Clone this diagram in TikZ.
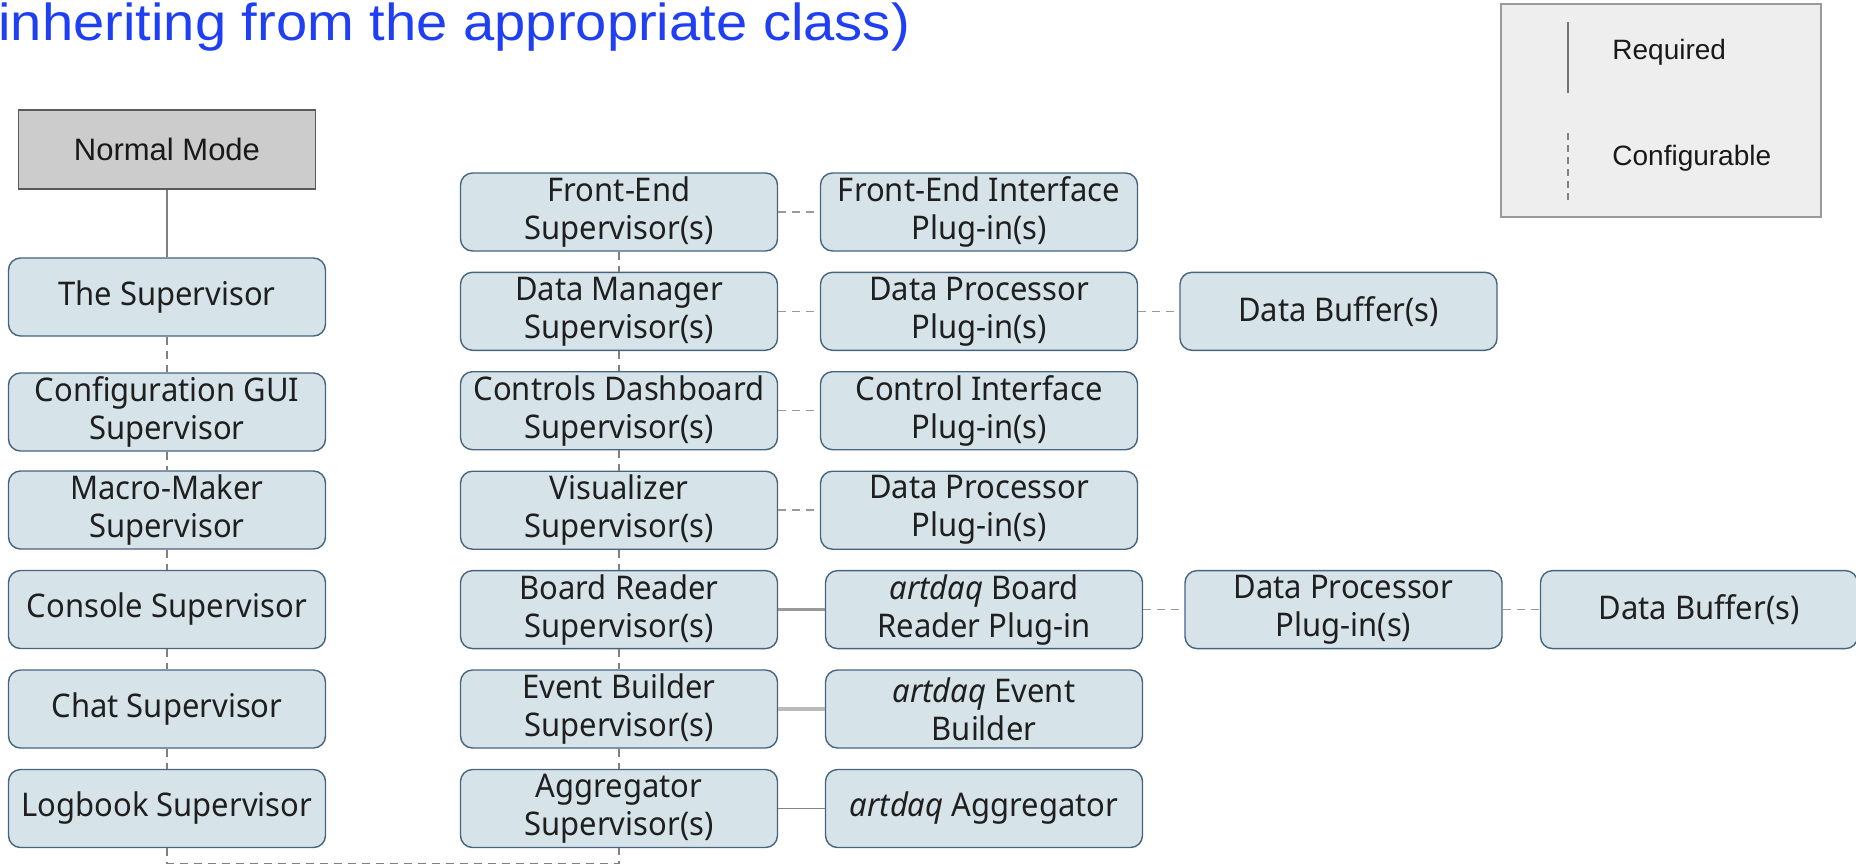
\documentclass[tikz,border=0pt]{standalone}
\usepackage{fontspec}
\setmainfont{Liberation Sans}
\newfontfamily\boxfont[FakeStretch=0.95]{Noto Sans}
\newfontfamily\titlefont[FakeStretch=1.08]{Liberation Sans}
\definecolor{boxfill}{HTML}{D6E4EA}
\definecolor{boxline}{HTML}{46647E}
\definecolor{modefill}{HTML}{CCCCCC}
\definecolor{modeline}{HTML}{5A5A5A}
\definecolor{legfill}{HTML}{EEEEEE}
\definecolor{legline}{HTML}{999999}
\definecolor{titleblue}{HTML}{1F3FF5}
\definecolor{reqline}{HTML}{808080}
\definecolor{cfgline}{HTML}{999999}
\begin{document}
\begin{tikzpicture}[x=0.5pt,y=-0.5pt,
    sup/.style={draw=boxline,line width=0.7pt,fill=boxfill,rounded corners=6pt,
      minimum width=158.5pt,minimum height=39pt,inner sep=0pt,align=center,
      text=black!88,font=\boxfont\fontsize{16.3}{19}\selectfont},
    mode/.style={draw=modeline,line width=0.8pt,fill=modefill,
      minimum width=148.5pt,minimum height=39.5pt,inner sep=0pt,
      text=black!90,font=\fontsize{15.5}{18}\selectfont},
    legtext/.style={anchor=west,inner sep=0pt,text=black!90,font=\fontsize{14}{16}\selectfont},
    req/.style={draw=reqline,line width=0.75pt},
    cfg/.style={draw=cfgline,line width=0.75pt,dash pattern=on 4pt off 3pt}]
  \useasboundingbox (0,0) rectangle (1856,863);
  \node[anchor=base west,inner sep=0pt,text=titleblue,
    font=\titlefont\fontsize{26}{30}\selectfont] (title) at (-2,40)
    {inheriting from the appropriate class)};
  % legend
  \node[draw=legline,line width=0.8pt,fill=legfill,minimum width=160pt,
    minimum height=106.5pt] (legend) at (1661,110.5) {};
  \node[legtext] (required) at (1612,52) {Required};
  \node[legtext] (configurable) at (1612,158) {Configurable};
  \coordinate (reqtop) at (1568,22);
  \coordinate (reqbot) at (1568,93);
  \coordinate (cfgtop) at (1568,133);
  \coordinate (cfgbot) at (1568,203);
  \draw[req,draw=black!55,line width=1.4pt] (reqtop) -- (reqbot);
  \draw[cfg,draw=black!50,line width=1.2pt,dash pattern=on 3.5pt off 2.5pt] (cfgtop) -- (cfgbot);
  % left column
  \node[mode] (normal) at (167,149.5) {Normal Mode};
  \node[sup] (super) at (167,297) {The Supervisor};
  \node[sup] (cfggui) at (167,412) {Configuration GUI\\Supervisor};
  \node[sup] (macro) at (167,510) {Macro-Maker\\Supervisor};
  \node[sup] (console) at (167,609.5) {Console Supervisor};
  \node[sup] (chat) at (167,709) {Chat Supervisor};
  \node[sup] (logbook) at (167,808.5) {Logbook Supervisor};
  % supervisor column
  \node[sup] (fesup) at (619,212) {Front-End\\Supervisor(s)};
  \node[sup] (dmsup) at (619,311.3) {Data Manager\\Supervisor(s)};
  \node[sup] (cdsup) at (619,410.7) {Controls Dashboard\\Supervisor(s)};
  \node[sup] (vissup) at (619,510.2) {Visualizer\\Supervisor(s)};
  \node[sup] (brsup) at (619,609.6) {Board Reader\\Supervisor(s)};
  \node[sup] (ebsup) at (619,709) {Event Builder\\Supervisor(s)};
  \node[sup] (aggsup) at (619,808.5) {Aggregator\\Supervisor(s)};
  % plug-ins
  \node[sup] (feplug) at (979,212) {Front-End Interface\\Plug-in(s)};
  \node[sup] (dpplug) at (979,311.3) {Data Processor\\Plug-in(s)};
  \node[sup] (ciplug) at (979,410.7) {Control Interface\\Plug-in(s)};
  \node[sup] (visplug) at (979,510.2) {Data Processor\\Plug-in(s)};
  \node[sup] (brplug) at (984,609.6) {\textit{artdaq} Board\\Reader Plug-in};
  \node[sup] (ebplug) at (984,709) {\textit{artdaq} Event\\Builder};
  \node[sup] (aggplug) at (984,808.5) {\textit{artdaq} Aggregator};
  \node[sup] (dmbuf) at (1338.5,311.3) {Data Buffer(s)};
  \node[sup] (brproc) at (1343.5,609.6) {Data Processor\\Plug-in(s)};
  \node[sup] (brbuf) at (1699,609.6) {Data Buffer(s)};
  \coordinate (leftend) at (167,863.5);
  \coordinate (midend) at (619,863.5);
  \begin{scope}[-]
    \draw[req] (normal) -- (super);
    \foreach \a/\b in {super/cfggui,cfggui/macro,macro/console,console/chat,chat/logbook,
        fesup/dmsup,dmsup/cdsup,cdsup/vissup,vissup/brsup,brsup/ebsup,ebsup/aggsup}
      \draw[cfg,draw=reqline] (\a) -- (\b);
    \draw[cfg,draw=reqline] (logbook) -- (leftend) -- (midend) -- (aggsup);
    \foreach \a/\b in {fesup/feplug,dmsup/dpplug,cdsup/ciplug,vissup/visplug,
        dpplug/dmbuf,brplug/brproc,brproc/brbuf}
      \draw[cfg] (\a) -- (\b);
    \draw[req,draw=black!40,line width=1.3pt] (brsup) -- (brplug);
    \draw[req,draw=black!27,line width=2.2pt] (ebsup) -- (ebplug);
    \draw[req,draw=black!48] (aggsup) -- (aggplug);
  \end{scope}
\end{tikzpicture}
\end{document}
